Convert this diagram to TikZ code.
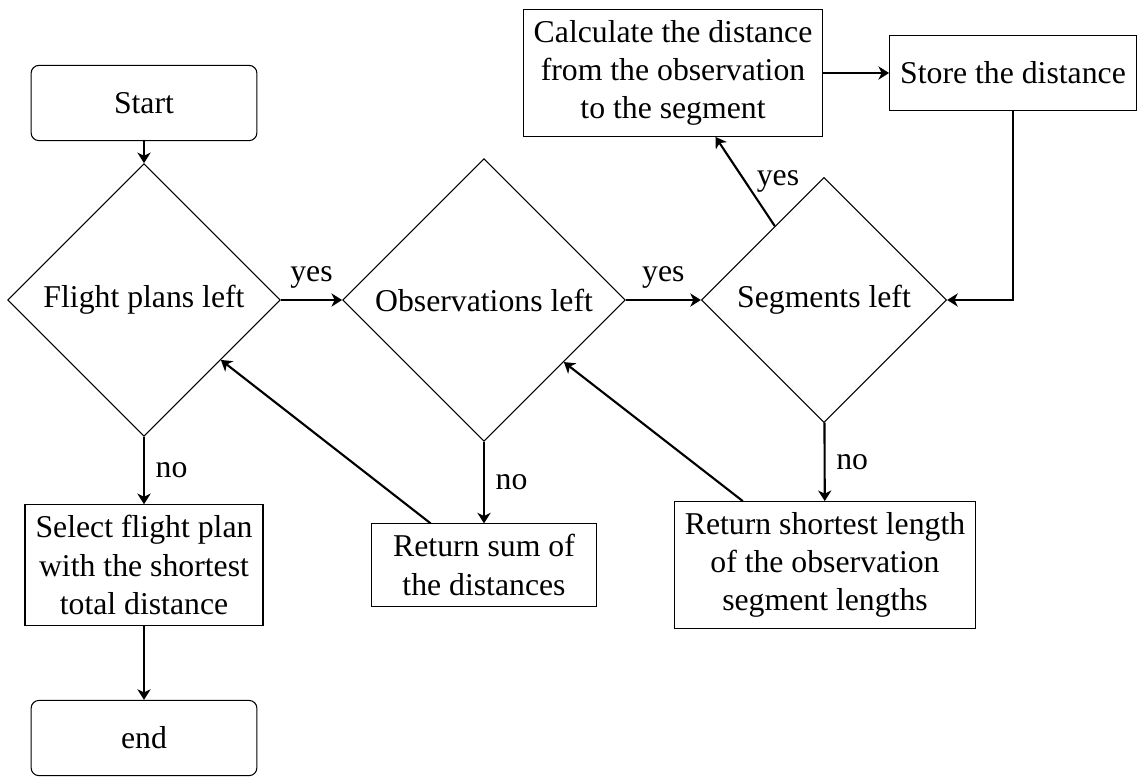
\documentclass[tikz,border=0pt,12pt]{standalone}
\usepackage{fontspec}
\setmainfont{Liberation Serif}
\usetikzlibrary{shapes.geometric, arrows.meta, positioning, calc}

\begin{document}
\begin{tikzpicture}[auto, x=0.378pt, y=-0.378pt, >={Stealth[length=4pt, width=5pt, inset=1.2pt]},
    block/.style={draw, rectangle, minimum width=3cm, minimum height=1cm, align=center},
    startstop/.style={block, rounded corners=3pt},
    decision/.style={draw, diamond, aspect=1},
    line/.style={->, thick}]
    \useasboundingbox (0,0) rectangle (1141,776);
    \node [startstop] (start) at (144,103) {Start};
    \node [decision] (flight) at (144,300) {Flight plans left};
    \node [decision] (obs) at (484,300) {Observations left};
    \node [decision] (seg) at (824,300) {Segments left};
    \node [block] (calc) at (673,73) {Calculate the distance\\from the observation\\to the segment};
    \node [block] (store) at (1013,73) {Store the distance};
    \node [block] (select) at (144,565) {Select flight plan\\with the shortest\\total distance};
    \node [block] (sum) at (484,565) {Return sum of\\the distances};
    \node [block] (shortest) at (825,565) {Return shortest length\\of the observation\\segment lengths};
    \node [startstop] (end) at (144,738) {end};

    \draw [line] (start) -- (flight);
    \draw [line] (flight) -- node {yes} (obs);
    \draw [line] (obs) -- node {yes} (seg);
    \draw [line] (seg) -- node [right] {yes} (calc);
    \draw [line] (calc) -- (store);
    \draw [line] (store.south) |- (seg.east);
    \draw [line] (seg) -- node {no} (shortest);
    \draw [line] (shortest) -- (obs);
    \draw [line] (obs) -- node {no} (sum);
    \draw [line] (sum) -- (flight);
    \draw [line] (flight) -- node {no} (select);
    \draw [line] (select) -- (end);
\end{tikzpicture}
\end{document}
